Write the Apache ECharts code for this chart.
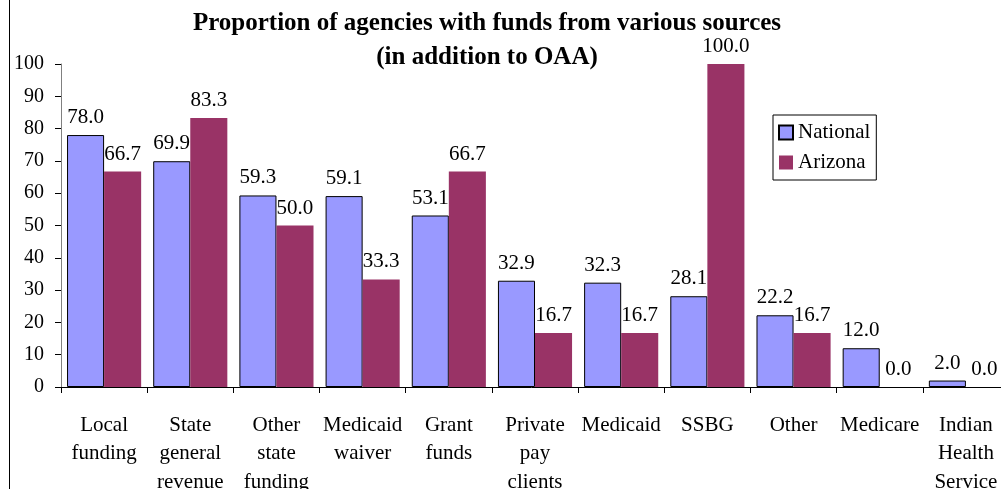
<!DOCTYPE html>
<html>
<head>
<meta charset="utf-8">
<script src="https://cdn.jsdelivr.net/npm/echarts@6/dist/echarts.min.js"></script>
<style>
html, body { margin: 0; padding: 0; background: #fff; }
#main { width: 1001px; height: 489px; }
</style>
</head>
<body>
<div id="main"></div>
<script>
// funding sources, national vs arizona
var categories = ['Local\nfunding', 'State\ngeneral\nrevenue', 'Other\nstate\nfunding', 'Medicaid\nwaiver',
    'Grant\nfunds', 'Private\npay\nclients', 'Medicaid', 'SSBG', 'Other', 'Medicare', 'Indian\nHealth\nService']
var national = [78.0, 69.9, 59.3, 59.1, 53.1, 32.9, 32.3, 28.1, 22.2, 12.0, 2.0]
var arizona = [66.7, 83.3, 50.0, 33.3, 66.7, 16.7, 16.7, 100.0, 16.7, 0.0, 0.0]

var serif = '"Liberation Serif", "DejaVu Serif", serif'
var myChart = echarts.init(document.getElementById('main'))
var option = {
    animation: false,
    textStyle: { fontFamily: serif },
    title: {
        text: 'Proportion of agencies with funds from various sources\n(in addition to OAA)',
        left: 482,
        textAlign: 'center',
        top: 2,
        textStyle: {
            fontFamily: serif,
            fontSize: 25,
            fontWeight: 'bold',
            color: '#000',
            lineHeight: 34
        }
    },
    legend: {
        orient: 'vertical',
        left: 773,
        top: 115,
        padding: [7, 6, 7, 5],
        itemGap: 9,
        itemWidth: 14,
        itemHeight: 14,
        borderColor: '#000',
        borderWidth: 1,
        icon: 'rect',
        textStyle: { fontFamily: serif, fontSize: 21, color: '#000' },
        data: ['National', 'Arizona']
    },
    grid: {
        left: 61,
        right: -8,
        top: 64,
        bottom: 102,
        outerBoundsMode: 'none',
        containLabel: false
    },
    xAxis: {
        type: 'category',
        data: categories,
        axisLine: { lineStyle: { color: '#000', width: 1 } },
        axisTick: { show: true, length: 6, lineStyle: { color: '#000' } },
        axisLabel: {
            interval: 0,
            margin: 24,
            fontFamily: serif,
            fontSize: 21,
            lineHeight: 28.5,
            color: '#000'
        }
    },
    yAxis: {
        type: 'value',
        min: 0,
        max: 100,
        interval: 10,
        splitLine: { show: false },
        axisLine: { show: true, lineStyle: { color: '#808080' } },
        axisTick: { show: true, length: 6, lineStyle: { color: '#000' } },
        axisLabel: { fontFamily: serif, fontSize: 20, color: '#000', margin: 17 }
    },
    series: [
        {
            name: 'National',
            type: 'bar',
            data: national,
            barGap: '0%',
            barCategoryGap: '14%',
            itemStyle: { color: '#9999FF', borderColor: '#000', borderWidth: 1 },
            label: {
                show: true,
                position: 'top',
                distance: 7,
                fontFamily: serif,
                fontSize: 21,
                color: '#000',
                formatter: function (p) { return p.value.toFixed(1) }
            }
        },
        {
            name: 'Arizona',
            type: 'bar',
            data: arizona,
            barGap: '0%',
            barCategoryGap: '14%',
            itemStyle: { color: '#993366' },
            label: {
                show: true,
                position: 'top',
                distance: 7,
                fontFamily: serif,
                fontSize: 21,
                color: '#000',
                formatter: function (p) { return p.value.toFixed(1) }
            }
        }
    ],
    graphic: [
        {
            type: 'line',
            shape: { x1: 9.5, y1: 0, x2: 9.5, y2: 489 },
            style: { stroke: '#000', lineWidth: 1 }
        }
    ]
}
myChart.setOption(option)
</script>
</body>
</html>
